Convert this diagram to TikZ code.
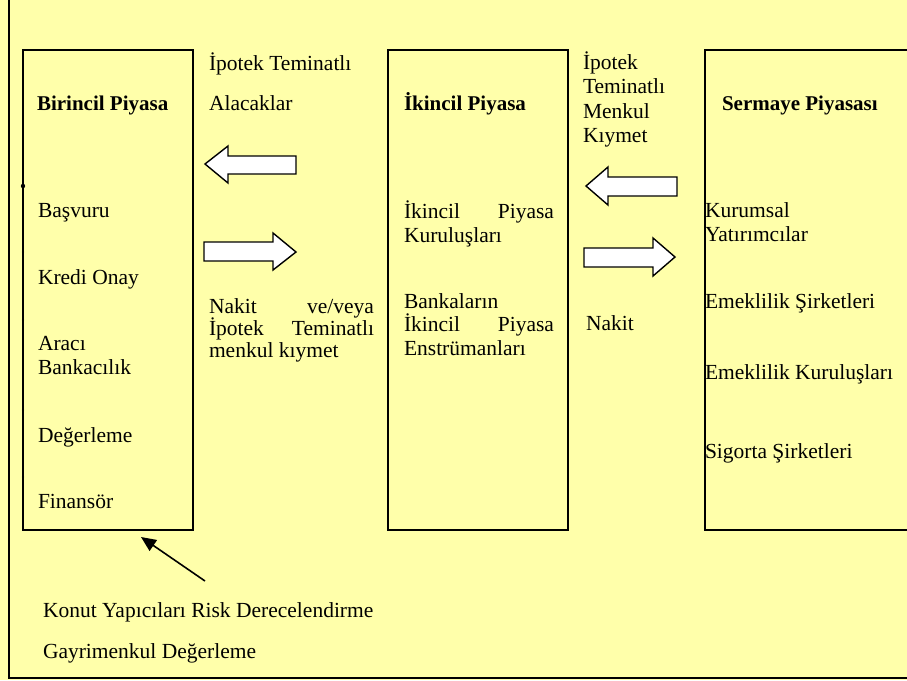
\documentclass[tikz,border=0pt]{standalone}
\usepackage{fontspec}
\setmainfont{Liberation Serif}
\usetikzlibrary{arrows.meta}
\definecolor{bg}{RGB}{255,255,170}
\begin{document}
\begin{tikzpicture}[x=1pt,y=-1pt,
  every node/.style={font=\fontsize{21.5}{24}\selectfont, inner sep=0pt, outer sep=0pt},
  lbl/.style={anchor=base west},
  hd/.style={anchor=base west, font=\fontsize{21}{24}\selectfont\bfseries},
  panel/.style={draw=black, line width=2.6pt},
  barrow/.style={draw=black, fill=white, line width=1.4pt, line join=miter},
  frameline/.style={draw=black, line width=2.6pt},
  pointer/.style={draw=black, line width=1.6pt, -{Triangle[length=15pt,width=13pt]}},
  tick/.style={fill=black}]
\fill[bg] (0,0) rectangle (907,680);
\useasboundingbox (0,0) rectangle (907,680);
\clip (0,0) rectangle (907,680);
% outer frame (left and bottom only)
\draw[frameline] (9,0) -- (9,678) -- (910,678);
% panels
\draw[panel] (23,50) rectangle (193,530);
\draw[panel] (388,50) rectangle (568,530);
\draw[panel] (705,50) rectangle (915,530);
% small marks on the left panel edge
\fill[tick] (23,186) circle (2.2pt);
\foreach \yy in {252,320,410,477} \fill[tick] (23,\yy) circle (1.1pt);
% block arrows
\draw[barrow] (205,164) -- (228,146) -- (228,156) -- (296,156) -- (296,174) -- (228,174) -- (228,183) -- cycle;
\draw[barrow] (296,252) -- (273,233) -- (273,242) -- (204,242) -- (204,261) -- (273,261) -- (273,270) -- cycle;
\draw[barrow] (586,186) -- (608,167) -- (608,177) -- (677,177) -- (677,196) -- (608,196) -- (608,205) -- cycle;
\draw[barrow] (675,257) -- (653,238) -- (653,248) -- (584,248) -- (584,267) -- (653,267) -- (653,276) -- cycle;
% headings
\node[hd] (h1) at (37,110) {Birincil Piyasa};
\node[hd] (h2) at (404,110) {İkincil Piyasa};
\node[hd] (h3) at (722,110) {Sermaye Piyasası};
% left panel items
\node[lbl] (b1) at (38,217) {Başvuru};
\node[lbl] (b2) at (38,284) {Kredi Onay};
\node[lbl] (b3) at (38,350) {Aracı};
\node[lbl] (b4) at (38,374) {Bankacılık};
\node[lbl] (b5) at (38,442) {Değerleme};
\node[lbl] (b6) at (38,508) {Finansör};
% labels between panel 1 and 2
\node[lbl] (a1) at (209,70) {İpotek Teminatlı};
\node[lbl] (a2) at (209,110) {Alacaklar};
\node[lbl] (n1) at (209,313) {\hbox to 165pt{Nakit\hfill ve/veya}};
\node[lbl] (n2) at (209,335) {\hbox to 165pt{İpotek\hfill Teminatlı}};
\node[lbl] (n3) at (209,357) {menkul kıymet};
% middle panel items
\node[lbl] (k1) at (404,218) {\hbox to 150pt{İkincil\hfill Piyasa}};
\node[lbl] (k2) at (404,242) {Kuruluşları};
\node[lbl] (k3) at (404,308) {Bankaların};
\node[lbl] (k4) at (404,331) {\hbox to 150pt{İkincil\hfill Piyasa}};
\node[lbl] (k5) at (404,355) {Enstrümanları};
% labels between panel 2 and 3
\node[lbl] (m1) at (583,69) {İpotek};
\node[lbl] (m2) at (583,93) {Teminatlı};
\node[lbl] (m3) at (583,118) {Menkul};
\node[lbl] (m4) at (583,142) {Kıymet};
\node[lbl] (m5) at (586,330) {Nakit};
% right panel items
\node[lbl] (s1) at (705,217) {Kurumsal};
\node[lbl] (s2) at (705,241) {Yatırımcılar};
\node[lbl] (s3) at (705,308) {Emeklilik Şirketleri};
\node[lbl] (s4) at (705,379) {Emeklilik Kuruluşları};
\node[lbl] (s5) at (705,458) {Sigorta Şirketleri};
% bottom
\node[lbl] (g1) at (43,617) {Konut Yapıcıları Risk Derecelendirme};
\node[lbl] (g2) at (43,658) {Gayrimenkul Değerleme};
\coordinate (ptail) at (205,581);
\coordinate (phead) at (141,537);
\draw[pointer] (ptail) -- (phead);
\end{tikzpicture}
\end{document}
